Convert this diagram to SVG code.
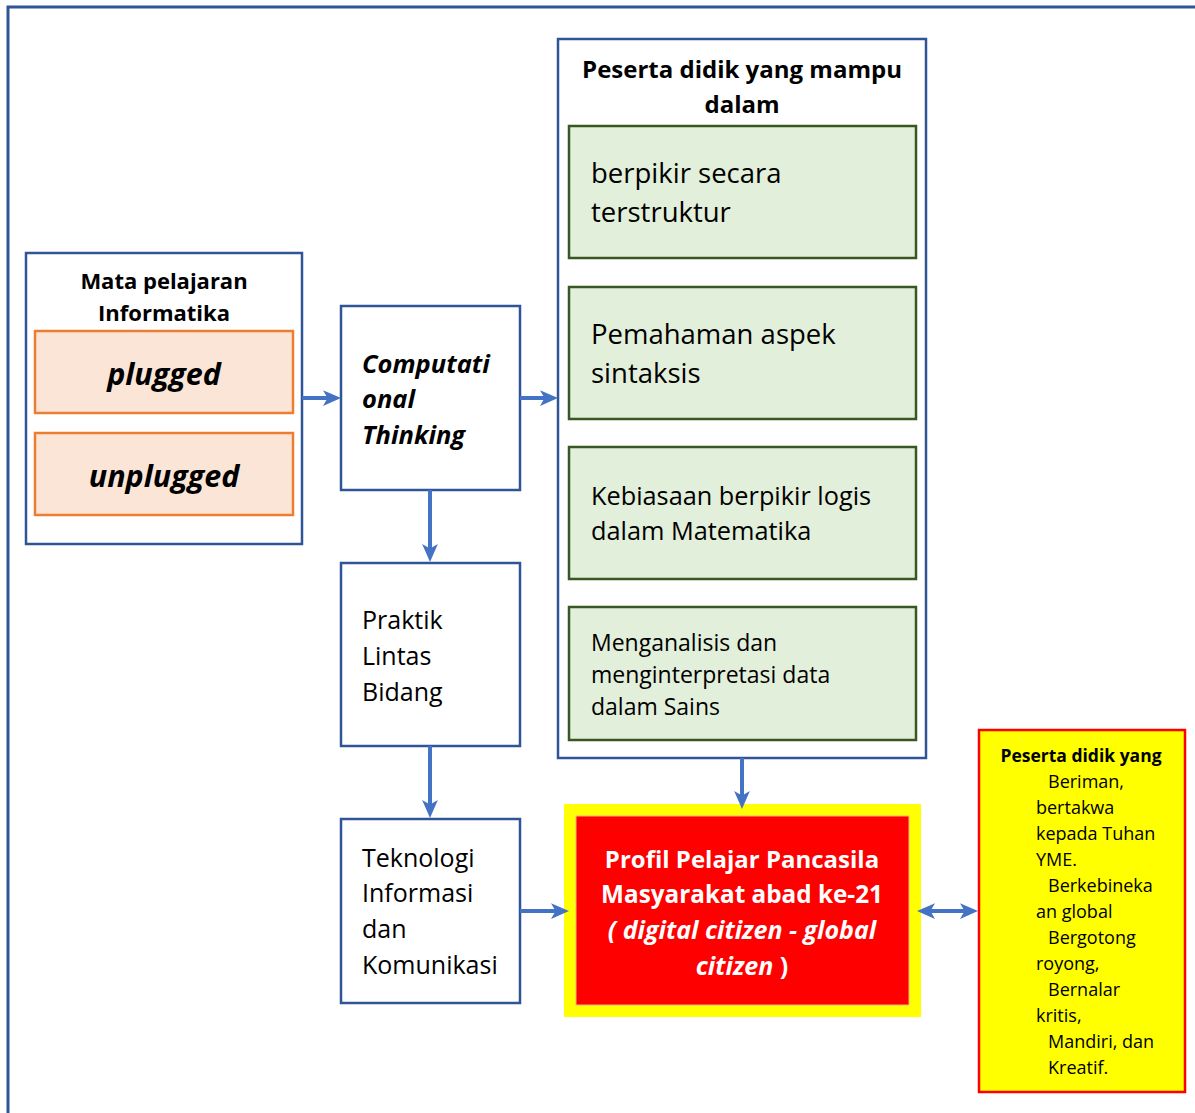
<svg xmlns="http://www.w3.org/2000/svg" width="1195" height="1113" viewBox="0 0 1195 1113">
<style>
text{font-family:"Open Sans","Liberation Sans",sans-serif;fill:#000}
.b{font-weight:bold}
.bi{font-weight:bold;font-style:italic}
.box{fill:#fff;stroke:#2F5597;stroke-width:2.5}
.org{fill:#FBE5D6;stroke:#ED7D31;stroke-width:2.5}
.grn{fill:#E2EFDA;stroke:#385723;stroke-width:2.5}
.con{stroke:#4472C4;stroke-width:4;fill:none}
.w{fill:#fff}
</style>
<defs>
<marker id="ah" markerUnits="userSpaceOnUse" markerWidth="18" markerHeight="16" refX="8" refY="7" orient="auto-start-reverse" viewBox="0 0 16 14">
<path d="M0,0 L16,7 L0,14 L4,7 z" fill="#4472C4"/>
</marker>
</defs>
<path d="M8,1113 V7 H1195" fill="none" stroke="#2F5597" stroke-width="3"/>

<g id="mapel">
<rect class="box" x="26" y="253" width="276" height="291"/>
<text class="b" x="164" y="289" font-size="22" text-anchor="middle">Mata pelajaran</text>
<text class="b" x="164" y="321" font-size="22" text-anchor="middle">Informatika</text>
</g>
<g id="plugged">
<rect class="org" x="35" y="331" width="258" height="82"/>
<text class="bi" x="164" y="385" font-size="30.5" text-anchor="middle">plugged</text>
</g>
<g id="unplugged">
<rect class="org" x="35" y="433" width="258" height="82"/>
<text class="bi" x="164" y="487" font-size="30.5" text-anchor="middle">unplugged</text>
</g>

<g id="ct">
<rect class="box" x="341" y="306" width="179" height="184"/>
<text class="bi" x="362" y="373" font-size="25.5">Computati</text>
<text class="bi" x="362" y="408" font-size="25.5">onal</text>
<text class="bi" x="362" y="444" font-size="25.5">Thinking</text>
</g>

<g id="praktik">
<rect class="box" x="341" y="563" width="179" height="183"/>
<text x="362" y="629" font-size="25">Praktik</text>
<text x="362" y="665" font-size="25">Lintas</text>
<text x="362" y="701" font-size="25">Bidang</text>
</g>

<g id="tik">
<rect class="box" x="341" y="819" width="179" height="184"/>
<text x="362" y="867" font-size="25">Teknologi</text>
<text x="362" y="902" font-size="25">Informasi</text>
<text x="362" y="938" font-size="25">dan</text>
<text x="362" y="974" font-size="25">Komunikasi</text>
</g>

<g id="peserta">
<rect class="box" x="558" y="39" width="368" height="719"/>
<text class="b" x="742" y="78" font-size="24" text-anchor="middle">Peserta didik yang mampu</text>
<text class="b" x="742" y="113" font-size="24" text-anchor="middle">dalam</text>
</g>
<g id="g1">
<rect class="grn" x="569" y="126" width="347" height="132"/>
<text x="591" y="183" font-size="27.5">berpikir secara</text>
<text x="591" y="222" font-size="27.5">terstruktur</text>
</g>
<g id="g2">
<rect class="grn" x="569" y="287" width="347" height="132"/>
<text x="591" y="344" font-size="27.5">Pemahaman aspek</text>
<text x="591" y="383" font-size="27.5">sintaksis</text>
</g>
<g id="g3">
<rect class="grn" x="569" y="447" width="347" height="132"/>
<text x="591" y="505" font-size="25.3">Kebiasaan berpikir logis</text>
<text x="591" y="540" font-size="25.3">dalam Matematika</text>
</g>
<g id="g4">
<rect class="grn" x="569" y="607" width="347" height="133"/>
<text x="591" y="651" font-size="23">Menganalisis dan</text>
<text x="591" y="683" font-size="23">menginterpretasi data</text>
<text x="591" y="715" font-size="23">dalam Sains</text>
</g>

<g id="profil">
<rect x="564" y="804" width="357" height="213" fill="#FFFF00"/>
<rect x="576" y="816" width="333" height="189" fill="#FF0000" stroke="#F4B183" stroke-width="1"/>
<text class="b w" x="742" y="868" font-size="24" text-anchor="middle">Profil Pelajar Pancasila</text>
<text class="b w" x="742" y="903" font-size="24.3" text-anchor="middle">Masyarakat abad ke-21</text>
<text class="bi w" x="742" y="939" font-size="25" text-anchor="middle">( digital citizen - global</text>
<text class="b w" x="742" y="975" font-size="25" text-anchor="middle"><tspan font-style="italic">citizen</tspan> )</text>
</g>

<g id="profil-list">
<rect x="979" y="730" width="206" height="362" fill="#FFFF00" stroke="#FF0000" stroke-width="2.5"/>
<text class="b" x="1081" y="762" font-size="17.5" text-anchor="middle">Peserta didik yang</text>
<text x="1048" y="788" font-size="18">Beriman,</text>
<text x="1036" y="814" font-size="18">bertakwa</text>
<text x="1036" y="840" font-size="18">kepada Tuhan</text>
<text x="1036" y="866" font-size="18">YME.</text>
<text x="1048" y="892" font-size="18">Berkebineka</text>
<text x="1036" y="918" font-size="18">an global</text>
<text x="1048" y="944" font-size="18">Bergotong</text>
<text x="1036" y="970" font-size="18">royong,</text>
<text x="1048" y="996" font-size="18">Bernalar</text>
<text x="1036" y="1022" font-size="18">kritis,</text>
<text x="1048" y="1048" font-size="18">Mandiri, dan</text>
<text x="1048" y="1074" font-size="18">Kreatif.</text>
</g>

<g id="connectors">
<line class="con" x1="302" y1="398" x2="332" y2="398" marker-end="url(#ah)"/>
<line class="con" x1="520" y1="398" x2="549" y2="398" marker-end="url(#ah)"/>
<line class="con" x1="430" y1="490" x2="430" y2="553" marker-end="url(#ah)"/>
<line class="con" x1="430" y1="746" x2="430" y2="809" marker-end="url(#ah)"/>
<line class="con" x1="520" y1="911" x2="560" y2="911" marker-end="url(#ah)"/>
<line class="con" x1="742" y1="758" x2="742" y2="800" marker-end="url(#ah)"/>
<line class="con" x1="926" y1="911" x2="969" y2="911" marker-start="url(#ah)" marker-end="url(#ah)"/>
</g>
</svg>
